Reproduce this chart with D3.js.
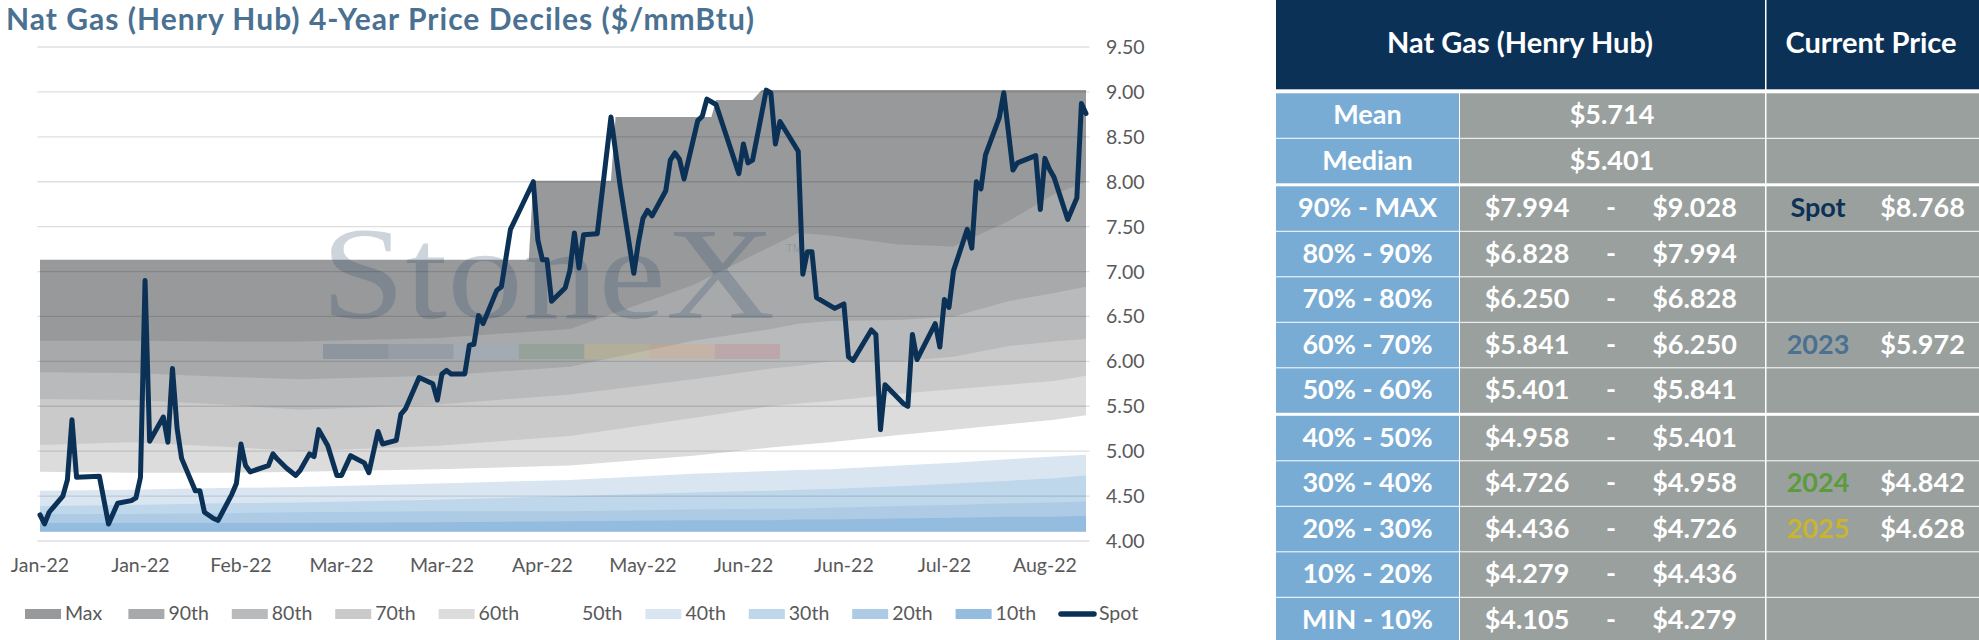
<!DOCTYPE html>
<html>
<head>
<meta charset="utf-8">
<script src="https://cdn.jsdelivr.net/npm/d3@7"></script>
<style>
  html, body { margin: 0; padding: 0; background: #fff; }
  svg { display: block; font-family: Lato, "Open Sans", sans-serif; }
</style>
</head>
<body>
<svg id="chart" width="1979" height="640"></svg>
<script>
// ---- data ----
// day numbers count from 1 Jan 2022
const spotDay = [0,1,2,5,6,7,8,13,15,17,20,21,22,23,24,27,28,29,30,31,34,35,36,38,39,42,43,44,45,46,
  50,51,52,54,56,57,59,60,61,63,65,66,68,71,72,74,75,78,79,80,83,86,87,88,89,90,93,94,95,96,97,
  100,101,103,105,108,109,110,111,112,115,116,117,118,119,122,125,127,130,131,132,133,134,137,138,
  139,140,141,144,145,146,148,153,154,155,156,159,160,161,162,166,167,168,169,170,174,176,177,178,
  182,183,184,185,189,190,191,192,196,197,198,199,200,203,204,205,206,207,210,211,213,214,218,219,
  220,221,222,225,227,228,229];
const spotPrice = [4.29,4.19,4.32,4.50,4.68,5.35,4.71,4.72,4.19,4.42,4.45,4.48,4.71,6.90,5.11,5.38,5.10,5.92,5.26,4.92,
  4.56,4.56,4.32,4.25,4.23,4.52,4.64,5.08,4.84,4.77,
  4.84,4.97,4.91,4.81,4.73,4.79,4.97,4.94,5.24,5.06,4.73,4.73,4.95,4.87,4.76,5.22,5.08,5.12,5.41,5.47,
  5.82,5.75,5.57,5.86,5.90,5.86,5.86,6.18,6.19,6.51,6.42,
  6.79,6.83,7.47,7.68,8.00,7.35,7.13,7.13,6.67,6.82,7.01,7.43,7.04,7.41,7.42,8.72,7.96,6.98,7.32,7.59,
  7.68,7.62,7.90,8.24,8.32,8.25,8.03,8.68,8.73,8.92,8.86,8.09,8.42,8.21,8.24,9.02,8.99,8.42,8.67,
  8.34,6.97,7.22,7.22,6.71,6.59,6.64,6.05,6.01,6.35,6.30,5.24,5.74,5.53,5.50,6.30,6.02,6.42,6.16,
  6.69,6.60,7.01,7.47,7.26,8.00,7.92,8.30,8.71,8.99,8.13,8.21,8.29,7.69,8.26,8.14,8.05,7.58,7.82,
  8.87,8.76];

// running maximum (top of the Max band)
const maxDay = [0, 107, 108, 125, 126, 147, 148, 156, 158, 229];
const maxTop = [7.13, 7.13, 8.01, 8.01, 8.72, 8.72, 8.91, 8.91, 9.02, 9.02];

// decile boundaries
const bandDay = [0, 20, 40, 57, 87, 116, 143, 160, 166, 173, 188, 200, 212, 222, 229];
const p90 = [6.23, 6.23, 6.22, 6.22, 6.26, 6.36, 6.85, 7.28, 7.43, 7.40, 7.30, 7.28, 7.56, 7.86, 8.00];
const p80 = [5.88, 5.87, 5.83, 5.80, 5.84, 5.94, 6.23, 6.36, 6.42, 6.45, 6.46, 6.50, 6.67, 6.76, 6.83];
const p70 = [5.58, 5.57, 5.52, 5.46, 5.52, 5.63, 5.80, 5.92, 5.95, 6.00, 6.00, 6.05, 6.17, 6.22, 6.25];
const p60 = [5.07, 5.10, 5.05, 5.00, 5.06, 5.17, 5.37, 5.50, 5.53, 5.56, 5.64, 5.69, 5.74, 5.78, 5.84];
const p50 = [4.77, 4.76, 4.76, 4.77, 4.80, 4.84, 4.95, 5.04, 5.07, 5.10, 5.18, 5.24, 5.30, 5.35, 5.40];
const p40 = [4.56, 4.57, 4.59, 4.60, 4.64, 4.68, 4.75, 4.78, 4.79, 4.80, 4.84, 4.87, 4.91, 4.94, 4.96];
const p30 = [4.39, 4.40, 4.42, 4.43, 4.46, 4.50, 4.54, 4.56, 4.57, 4.58, 4.61, 4.64, 4.67, 4.70, 4.73];
const p20 = [4.30, 4.30, 4.31, 4.32, 4.33, 4.33, 4.35, 4.36, 4.36, 4.37, 4.39, 4.40, 4.42, 4.43, 4.44];
const p10 = [4.20, 4.20, 4.20, 4.20, 4.21, 4.22, 4.23, 4.23, 4.24, 4.24, 4.25, 4.26, 4.27, 4.27, 4.28];
const minPrice = 4.105;

const bandNames = ["Max", "90th", "80th", "70th", "60th", "50th", "40th", "30th", "20th", "10th"];
const bandColors = ["#98999b", "#a8a9ab", "#b9babc", "#cacacb", "#dcdcdc", "#ffffff",
                    "#d9e6f2", "#bed7ea", "#adcbe5", "#94bcdf"];

const yTicks = [4.0, 4.5, 5.0, 5.5, 6.0, 6.5, 7.0, 7.5, 8.0, 8.5, 9.0, 9.5];
const tickStepDays = 22;
const lastDay = 229;

// table
const rowLabels = ["Mean", "Median", "90% - MAX", "80% - 90%", "70% - 80%", "60% - 70%",
                   "50% - 60%", "40% - 50%", "30% - 40%", "20% - 30%", "10% - 20%", "MIN - 10%"];
const rowLow  = [5.714, 5.401, 7.994, 6.828, 6.250, 5.841, 5.401, 4.958, 4.726, 4.436, 4.279, 4.105];
const rowHigh = [null, null, 9.028, 7.994, 6.828, 6.250, 5.841, 5.401, 4.958, 4.726, 4.436, 4.279];
const priceRow   = [2, 5, 8, 9];
const priceName  = ["Spot", "2023", "2024", "2025"];
const priceValue = [8.768, 5.972, 4.842, 4.628];
const priceColor = ["#0c3157", "#4a7191", "#5a9c3a", "#c8b52c"];

// ---- drawing ----
const svg = d3.select("#chart");
const start = new Date(Date.UTC(2022, 0, 1));
const dayDate = d => d3.utcDay.offset(start, d);

const x = d3.scaleUtc().domain([start, dayDate(lastDay)]).range([40, 1086]);
const y = d3.scaleLinear().domain([4, 9.5]).range([541, 47]);

// title
svg.append("text")
  .attr("x", 6).attr("y", 30)
  .attr("font-size", 30).attr("font-weight", "bold")
  .attr("textLength", 748).attr("lengthAdjust", "spacing")
  .attr("fill", "#4a7191")
  .text("Nat Gas (Henry Hub) 4-Year Price Deciles ($/mmBtu)");

// decile bands, painted top-down, each one filled down to the minimum
const tops = [maxTop, p90, p80, p70, p60, p50, p40, p30, p20, p10];
const bands = svg.append("g");
tops.forEach((vals, i) => {
  const days = i === 0 ? maxDay : bandDay;
  const pts = days.map((d, j) => ({ d: d, v: vals[j] }));
  const area = d3.area()
    .x(p => x(dayDate(p.d)))
    .y0(y(minPrice))
    .y1(p => y(p.v));
  bands.append("path")
    .datum(pts)
    .attr("d", area)
    .attr("fill", bandColors[i]);
});

// watermark
const wm = svg.append("g");
wm.append("text")
  .attr("x", 321).attr("y", 318)
  .attr("font-family", "'Liberation Serif', 'DejaVu Serif', serif")
  .attr("font-size", 132)
  .attr("textLength", 454).attr("lengthAdjust", "spacingAndGlyphs")
  .attr("fill", "#2c4a6e").attr("fill-opacity", 0.24)
  .text("StoneX");
wm.append("text")
  .attr("x", 786).attr("y", 252)
  .attr("font-family", "'Liberation Sans', sans-serif")
  .attr("font-size", 11)
  .attr("fill", "#2c4a6e").attr("fill-opacity", 0.22)
  .text("TM");
const stripColors = ["#2f4f75", "#56739c", "#8fb1d2", "#4e8a5e", "#d4c060", "#e8a060", "#c86a70"];
stripColors.forEach((c, i) => {
  wm.append("rect")
    .attr("x", 323 + i * 65.3).attr("y", 344)
    .attr("width", 65.3).attr("height", 15)
    .attr("fill", c).attr("fill-opacity", 0.22);
});

// gridlines over the bands
svg.append("g")
  .selectAll("line")
  .data(yTicks)
  .join("line")
  .attr("x1", 37.5).attr("x2", 1089.5)
  .attr("y1", d => y(d)).attr("y2", d => y(d))
  .attr("stroke", "#000").attr("stroke-opacity", 0.13).attr("stroke-width", 1.3);

// y axis labels on the right
svg.append("g")
  .selectAll("text")
  .data(yTicks)
  .join("text")
  .attr("x", 1106).attr("y", d => y(d) + 7)
  .attr("font-size", 19.5).attr("fill", "#595959")
  .text(d => d3.format(".2f")(d));

// x axis labels
const xTicks = d3.range(0, lastDay, tickStepDays).map(dayDate);
const fmtX = d3.utcFormat("%b-%y");
svg.append("g")
  .selectAll("text")
  .data(xTicks)
  .join("text")
  .attr("x", d => x(d)).attr("y", 572)
  .attr("text-anchor", "middle")
  .attr("font-size", 19.5).attr("fill", "#595959")
  .text(d => fmtX(d));

// spot line
const spot = spotDay.map((d, i) => ({ d: d, v: spotPrice[i] }));
svg.append("path")
  .datum(spot)
  .attr("d", d3.line().x(p => x(dayDate(p.d))).y(p => y(p.v)))
  .attr("fill", "none")
  .attr("stroke", "#0b3256").attr("stroke-width", 5)
  .attr("stroke-linejoin", "round").attr("stroke-linecap", "round");

// legend
const legendItems = bandNames.concat(["Spot"]);
const lg = svg.append("g")
  .selectAll("g")
  .data(legendItems)
  .join("g")
  .attr("transform", (d, i) => "translate(" + (25 + i * 103.4) + ",0)");
lg.each(function (d, i) {
  const g = d3.select(this);
  if (d === "Spot") {
    g.append("line")
      .attr("x1", 2).attr("x2", 35).attr("y1", 614).attr("y2", 614)
      .attr("stroke", "#0b3256").attr("stroke-width", 5.5).attr("stroke-linecap", "round");
  } else {
    g.append("rect")
      .attr("x", 0).attr("y", 609).attr("width", 36).attr("height", 10)
      .attr("fill", bandColors[i]);
  }
  g.append("text")
    .attr("x", 40).attr("y", 620)
    .attr("font-size", 19.5).attr("fill", "#595959")
    .text(d);
});

// ---- table ----
const tbl = svg.append("g").attr("font-size", 27).attr("font-weight", "bold");
const colLabel = { x: 1276, w: 183 };
const colValue = { x: 1460, w: 305 };
const colPrice = { x: 1766.5, w: 213 };
const headerH = 89.3;
const rowTop0 = 93.3, rowPitch = 45.5, rowH = 44.5;
const rowTop = i => rowTop0 + i * rowPitch + (i >= 2 ? 2 : 0) + (i >= 7 ? 2 : 0);
const money = v => "$" + d3.format(".3f")(v);

tbl.append("rect").attr("x", colLabel.x).attr("y", 0)
  .attr("width", colValue.x + colValue.w - colLabel.x).attr("height", headerH).attr("fill", "#0c3157");
tbl.append("rect").attr("x", colPrice.x).attr("y", 0)
  .attr("width", colPrice.w).attr("height", headerH).attr("fill", "#0c3157");
tbl.append("text").attr("x", 1520).attr("y", 53).attr("text-anchor", "middle")
  .attr("font-size", 29).attr("fill", "#fff").text("Nat Gas (Henry Hub)");
tbl.append("text").attr("x", 1871).attr("y", 53).attr("text-anchor", "middle")
  .attr("font-size", 29).attr("fill", "#fff").text("Current Price");

const rows = tbl.selectAll("g.row")
  .data(rowLabels)
  .join("g").attr("class", "row")
  .attr("transform", (d, i) => "translate(0," + rowTop(i) + ")");

rows.append("rect").attr("x", colLabel.x).attr("width", colLabel.w).attr("height", rowH).attr("fill", "#79acd5");
rows.append("rect").attr("x", colValue.x).attr("width", colValue.w).attr("height", rowH).attr("fill", "#9aa09e");
rows.append("rect").attr("x", colPrice.x).attr("width", colPrice.w).attr("height", rowH).attr("fill", "#9aa09e");

rows.append("text")
  .attr("x", colLabel.x + colLabel.w / 2).attr("y", 31)
  .attr("text-anchor", "middle").attr("fill", "#fff")
  .text(d => d);

rows.each(function (d, i) {
  const g = d3.select(this);
  if (rowHigh[i] === null) {
    g.append("text").attr("x", 1612).attr("y", 31).attr("text-anchor", "middle")
      .attr("fill", "#fff").text(money(rowLow[i]));
  } else {
    g.append("text").attr("x", 1527).attr("y", 31).attr("text-anchor", "middle")
      .attr("fill", "#fff").text(money(rowLow[i]));
    g.append("text").attr("x", 1611).attr("y", 31).attr("text-anchor", "middle")
      .attr("fill", "#fff").text("-");
    g.append("text").attr("x", 1694.5).attr("y", 31).attr("text-anchor", "middle")
      .attr("fill", "#fff").text(money(rowHigh[i]));
  }
  const k = priceRow.indexOf(i);
  if (k >= 0) {
    g.append("text").attr("x", 1818).attr("y", 31).attr("text-anchor", "middle")
      .attr("fill", priceColor[k]).text(priceName[k]);
    g.append("text").attr("x", 1922.5).attr("y", 31).attr("text-anchor", "middle")
      .attr("fill", "#fff").text(money(priceValue[k]));
  }
});
</script>
</body>
</html>
